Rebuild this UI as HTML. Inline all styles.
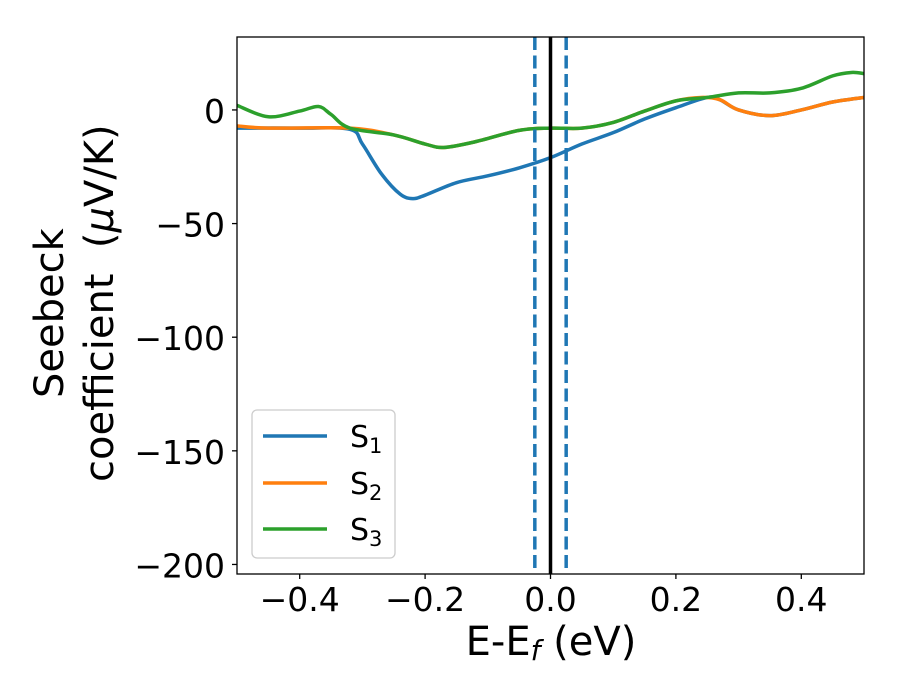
<!DOCTYPE html>
<html><head><meta charset="utf-8"><style>
body{margin:0;background:#fff}
svg{position:absolute;left:0;top:0}
svg text{font-family:"DejaVu Sans","Liberation Sans",sans-serif;fill:#000}
</style></head><body>
<svg id="chart" width="900" height="700" xmlns="http://www.w3.org/2000/svg">
<g id="marks"></g>
<g id="axes"></g>
</svg>
<script>
const s1X=[-0.5,-0.4,-0.32,-0.3,-0.27,-0.24,-0.22,-0.2,-0.15,-0.1,-0.05,0,0.05,0.1,0.15,0.2,0.25,0.27,0.3,0.35,0.4,0.45,0.5];
const s1Y=[-8,-8,-8.5,-15,-28,-37,-39,-37.5,-32,-29,-25.5,-21,-15,-10,-4,1,5.5,4.5,0,-2.5,0,3.5,5.5];
const s2X=[-0.5,-0.45,-0.32,-0.25,-0.2,-0.17,-0.12,-0.05,0,0.05,0.1,0.15,0.2,0.24,0.27,0.3,0.35,0.4,0.45,0.5];
const s2Y=[-7,-8,-8,-11,-15,-16.5,-14,-9,-8,-8,-5.5,-0.5,4,5.5,4.5,0,-2.5,0,3.5,5.5];
const s3X=[-0.5,-0.45,-0.4,-0.37,-0.35,-0.32,-0.25,-0.2,-0.17,-0.12,-0.05,0,0.05,0.1,0.15,0.2,0.25,0.3,0.35,0.4,0.45,0.48,0.5];
const s3Y=[2,-3,-0.5,1.5,-2,-8,-11,-15,-16.5,-14,-9,-8,-8,-5.5,-0.5,4,5.5,7.5,7.5,9.5,15,16.5,16];
const xTicks=[-0.4,-0.2,0.0,0.2,0.4];
const xTickLabels=["\u22120.4","\u22120.2","0.0","0.2","0.4"];
const yTicks=[0,-50,-100,-150,-200];
const yTickLabels=["0","\u221250","\u2212100","\u2212150","\u2212200"];
const fermiLines=[-0.025,0.025];
const L=237,R=864,T=37,B=574;
const xMin=-0.5,xMax=0.5,yMin=-204.2,yMax=32.1;
const sx=v=>L+(v-xMin)/(xMax-xMin)*(R-L);
const sy=v=>B-(v-yMin)/(yMax-yMin)*(B-T);
const NS="http://www.w3.org/2000/svg";
const marks=document.getElementById('marks'),axes=document.getElementById('axes');
function mk(tag,attrs,parent){const e=document.createElementNS(NS,tag);for(const k in attrs)e.setAttribute(k,attrs[k]);parent.appendChild(e);return e;}
function pathD(xs,ys){const p=xs.map((x,i)=>[sx(x),sy(ys[i])]);let d='M'+p[0][0]+','+p[0][1];
for(let i=0;i<p.length-1;i++){const p0=p[Math.max(i-1,0)],p1=p[i],p2=p[i+1],p3=p[Math.min(i+2,p.length-1)];
d+=` C${p1[0]+(p2[0]-p0[0])/6},${p1[1]+(p2[1]-p0[1])/6} ${p2[0]-(p3[0]-p1[0])/6},${p2[1]-(p3[1]-p1[1])/6} ${p2[0]},${p2[1]}`;}return d;}
const cp=mk('clipPath',{id:'clip'},marks);
mk('rect',{x:L,y:T,width:R-L,height:B-T},cp);
const g=mk('g',{'clip-path':'url(#clip)'},marks);
const series=[[s1X,s1Y,'#1f77b4','series-s1'],[s2X,s2Y,'#ff7f0e','series-s2'],[s3X,s3Y,'#2ca02c','series-s3']];
series.forEach(s=>{const e=mk('path',{d:pathD(s[0],s[1]),fill:'none',stroke:s[2],'stroke-width':3.5},g);

});
const fl=mk('line',{x1:sx(0),x2:sx(0),y1:T,y2:B,stroke:'#000','stroke-width':3.5},g);


fermiLines.forEach(v=>{const e=mk('line',{x1:sx(v),x2:sx(v),y1:T,y2:B,stroke:'#1f77b4','stroke-width':3.5,'stroke-dasharray':'13,5.5'},g);

});
const fr=mk('rect',{x:L,y:T,width:R-L,height:B-T,fill:'none',stroke:'#000','stroke-width':1.3},axes);


xTicks.forEach((v,i)=>{mk('line',{x1:sx(v),x2:sx(v),y1:B,y2:B+5,stroke:'#000','stroke-width':1.3},axes);
const t=mk('text',{x:sx(v),y:B+37,'text-anchor':'middle','font-size':33},axes);t.textContent=xTickLabels[i];

});
yTicks.forEach((v,i)=>{mk('line',{x1:L-5,x2:L,y1:sy(v),y2:sy(v),stroke:'#000','stroke-width':1.3},axes);
const t=mk('text',{x:L-12,y:sy(v)+13,'text-anchor':'end','font-size':33},axes);t.textContent=yTickLabels[i];

});
</script>
<svg width="900" height="700" xmlns="http://www.w3.org/2000/svg">
<text x="551" y="655" text-anchor="middle" font-size="40">E-E<tspan font-style="italic" font-size="28" dy="5">f</tspan><tspan dy="-5"> (eV)</tspan></text>
<g>
<text transform="translate(63,398) rotate(-90)" x="0" y="0" font-size="40">Seebeck</text>
<text transform="translate(113,482) rotate(-90)" x="0" y="0" font-size="40" xml:space="preserve">coefficient  (<tspan font-style="italic">μ</tspan>V/K)</text>
</g>
<g>
<rect x="252" y="410" width="143" height="148" rx="5" fill="#fff" fill-opacity="0.8" stroke="#ccc" stroke-width="1.3"/>
<g><line x1="263" x2="327" y1="436" y2="436" stroke="#1f77b4" stroke-width="3.5"/><text x="350" y="447" font-size="30">S<tspan font-size="21" dy="6">1</tspan></text></g>
<g><line x1="263" x2="327" y1="483" y2="483" stroke="#ff7f0e" stroke-width="3.5"/><text x="350" y="494" font-size="30">S<tspan font-size="21" dy="6">2</tspan></text></g>
<g><line x1="263" x2="327" y1="529" y2="529" stroke="#2ca02c" stroke-width="3.5"/><text x="350" y="540" font-size="30">S<tspan font-size="21" dy="6">3</tspan></text></g>
</g>
</svg>
</body></html>
